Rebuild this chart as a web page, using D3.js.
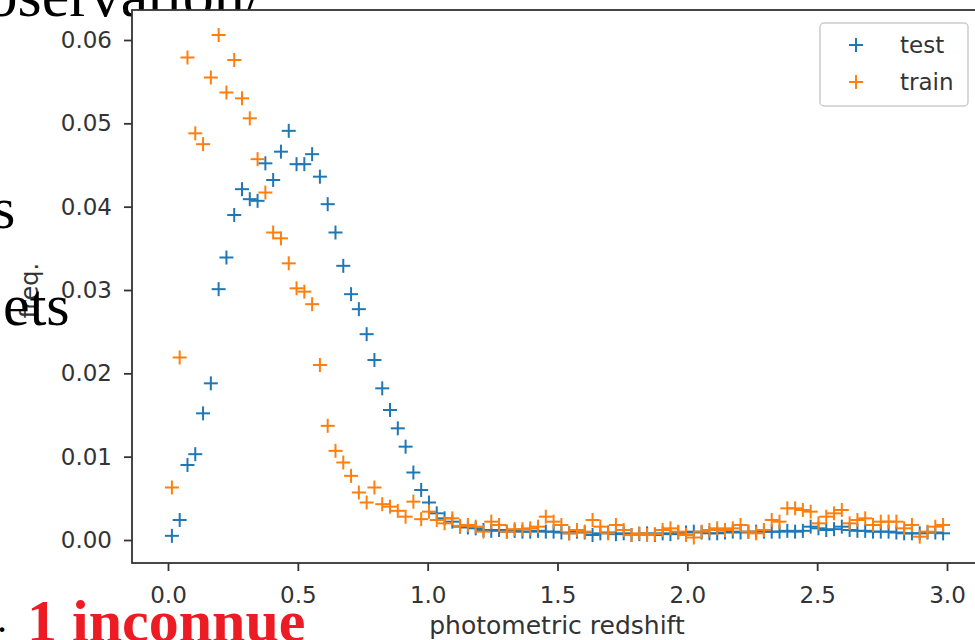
<!DOCTYPE html>
<html>
<head>
<meta charset="utf-8">
<script src="https://cdn.jsdelivr.net/npm/d3@7"></script>
<style>
  body { margin: 0; background: #fff; }
  svg { display: block; }
</style>
</head>
<body>
<script>
// histogram of photometric redshift, 100 bins between 0 and 3
var nBins = 100;
var binWidth = 0.03;
var binCenters = d3.range(nBins).map(function(i) { return +(0.015 + i * binWidth).toFixed(3); });

var testFreq = [
  0.0005, 0.0024, 0.0090, 0.0103, 0.0152, 0.0188, 0.0301, 0.0339, 0.0390, 0.0421,
  0.0409, 0.0407, 0.0452, 0.0432, 0.0466, 0.0491, 0.0451, 0.0451, 0.0463, 0.0436,
  0.0403, 0.0369, 0.0329, 0.0295, 0.0277, 0.0247, 0.0216, 0.0182, 0.0156, 0.0134,
  0.0112, 0.0081, 0.0060, 0.0045, 0.0032, 0.0026, 0.0022, 0.0016, 0.0015, 0.0014,
  0.0012, 0.0011, 0.0012, 0.0010, 0.0011, 0.0010, 0.0010, 0.0011, 0.0010, 0.0010,
  0.0009, 0.0008, 0.0010, 0.0009, 0.0006, 0.0008, 0.0009, 0.0007, 0.0008, 0.0006,
  0.0007, 0.0008, 0.0006, 0.0008, 0.0007, 0.0009, 0.0009, 0.0010, 0.0009, 0.0008,
  0.0008, 0.0009, 0.0010, 0.0009, 0.0010, 0.0010, 0.0010, 0.0010, 0.0010, 0.0011,
  0.0010, 0.0011, 0.0016, 0.0014, 0.0012, 0.0013, 0.0016, 0.0012, 0.0011, 0.0011,
  0.0010, 0.0010, 0.0010, 0.0009, 0.0008, 0.0008, 0.0008, 0.0009, 0.0009, 0.0008
];

var trainFreq = [
  0.0063, 0.0219, 0.0579, 0.0488, 0.0475, 0.0555, 0.0606, 0.0537, 0.0576, 0.0530,
  0.0506, 0.0457, 0.0417, 0.0369, 0.0362, 0.0332, 0.0302, 0.0298, 0.0283, 0.0210,
  0.0137, 0.0107, 0.0093, 0.0077, 0.0057, 0.0045, 0.0063, 0.0043, 0.0040, 0.0035,
  0.0028, 0.0046, 0.0025, 0.0034, 0.0024, 0.0020, 0.0026, 0.0017, 0.0018, 0.0016,
  0.0010, 0.0022, 0.0018, 0.0010, 0.0013, 0.0013, 0.0014, 0.0016, 0.0028, 0.0022,
  0.0018, 0.0008, 0.0012, 0.0010, 0.0024, 0.0016, 0.0008, 0.0018, 0.0012, 0.0006,
  0.0008, 0.0006, 0.0007, 0.0012, 0.0014, 0.0010, 0.0006, 0.0003, 0.0010, 0.0012,
  0.0014, 0.0012, 0.0014, 0.0018, 0.0010, 0.0008, 0.0012, 0.0024, 0.0022, 0.0038,
  0.0038, 0.0036, 0.0034, 0.0020, 0.0028, 0.0032, 0.0036, 0.0020, 0.0024, 0.0026,
  0.0018, 0.0022, 0.0022, 0.0022, 0.0014, 0.0018, 0.0004, 0.0010, 0.0016, 0.0018
];

var xTicks = [0.0, 0.5, 1.0, 1.5, 2.0, 2.5, 3.0];
var yTicks = [0.00, 0.01, 0.02, 0.03, 0.04, 0.05, 0.06];
var seriesNames = ["test", "train"];
var seriesColors = ["#1f77b4", "#ff7f0e"];

var width = 975, height = 640;
var frame = { left: 132, top: 10, right: 982, bottom: 563 };

var x = d3.scaleLinear().domain([0, 3]).range([168, 947]);
var y = d3.scaleLinear().domain([0, 0.06]).range([540, 40]);

var svg = d3.select("body").append("svg")
  .attr("width", width)
  .attr("height", height);

var serif = "'Liberation Serif', serif";

// slide text sitting behind the figure
svg.append("text")
  .attr("x", 262).attr("y", 16)
  .attr("text-anchor", "end")
  .style("font-family", serif)
  .style("font-size", "62px")
  .attr("fill", "#000")
  .text("observation/");

// axes background
svg.append("rect")
  .attr("x", frame.left).attr("y", frame.top)
  .attr("width", frame.right - frame.left)
  .attr("height", frame.bottom - frame.top)
  .attr("fill", "#fff");

var tickFont = "'DejaVu Sans', sans-serif";

// x axis
var xAxis = svg.append("g")
  .attr("transform", "translate(0," + frame.bottom + ")")
  .call(d3.axisBottom(x).tickValues(xTicks).tickFormat(d3.format(".1f")).tickSize(8).tickPadding(16));
xAxis.select(".domain").remove();

// y axis
var yAxis = svg.append("g")
  .attr("transform", "translate(" + frame.left + ",0)")
  .call(d3.axisLeft(y).tickValues(yTicks).tickFormat(d3.format(".2f")).tickSize(8).tickPadding(12));
yAxis.select(".domain").remove();

svg.selectAll(".tick line").attr("stroke", "#333").attr("stroke-width", 1.8);
svg.selectAll(".tick text")
  .attr("fill", "#333")
  .style("font-family", tickFont)
  .style("font-size", "23px");

// spines (right spine falls outside the window)
svg.append("rect")
  .attr("x", frame.left).attr("y", frame.top)
  .attr("width", frame.right - frame.left)
  .attr("height", frame.bottom - frame.top)
  .attr("fill", "none")
  .attr("stroke", "#333")
  .attr("stroke-width", 1.8);

// axis labels
svg.append("text")
  .attr("x", (frame.left + frame.right) / 2)
  .attr("y", 634)
  .attr("text-anchor", "middle")
  .attr("fill", "#333")
  .style("font-family", tickFont)
  .style("font-size", "25px")
  .text("photometric redshift");

svg.append("text")
  .attr("transform", "translate(38," + ((frame.top + frame.bottom) / 2 + 4) + ") rotate(-90)")
  .attr("text-anchor", "middle")
  .attr("fill", "#333")
  .style("font-family", tickFont)
  .style("font-size", "24px")
  .text("freq.");

// plus markers
function plus(g, color) {
  g.append("line").attr("x1", -7).attr("x2", 7).attr("y1", 0).attr("y2", 0)
    .attr("stroke", color).attr("stroke-width", 2);
  g.append("line").attr("x1", 0).attr("x2", 0).attr("y1", -7).attr("y2", 7)
    .attr("stroke", color).attr("stroke-width", 2);
}

var seriesData = [testFreq, trainFreq];
seriesData.forEach(function(values, si) {
  svg.append("g")
    .selectAll("g")
    .data(values)
    .enter()
    .append("g")
    .attr("transform", function(d, i) { return "translate(" + x(binCenters[i]) + "," + y(d) + ")"; })
    .each(function() { plus(d3.select(this), seriesColors[si]); });
});

// legend
var legend = svg.append("g");
legend.append("rect")
  .attr("x", 820).attr("y", 23)
  .attr("width", 148).attr("height", 83)
  .attr("rx", 4)
  .attr("fill", "#fff").attr("fill-opacity", 0.8)
  .attr("stroke", "#ccc").attr("stroke-width", 1.5);

seriesNames.forEach(function(name, i) {
  var row = legend.append("g").attr("transform", "translate(856," + (45 + i * 37) + ")");
  plus(row, seriesColors[i]);
  row.append("text")
    .attr("x", 44).attr("y", 8)
    .attr("fill", "#333")
    .style("font-family", tickFont)
    .style("font-size", "23px")
    .text(name);
});

// slide text drawn over the figure
svg.append("text")
  .attr("x", -8).attr("y", 228)
  .style("font-family", serif).style("font-size", "60px")
  .attr("fill", "#000")
  .text("s");

svg.append("text")
  .attr("x", 3).attr("y", 325)
  .style("font-family", serif).style("font-size", "60px")
  .attr("fill", "#000")
  .text("ets");

svg.append("text")
  .attr("x", -3).attr("y", 632)
  .style("font-family", serif).style("font-size", "40px")
  .attr("fill", "#000")
  .text(".");

svg.append("text")
  .attr("x", 27).attr("y", 641)
  .style("font-family", serif).style("font-size", "60px").style("font-weight", "bold")
  .attr("fill", "#ed1c24")
  .text("1 inconnue");
</script>
</body>
</html>
